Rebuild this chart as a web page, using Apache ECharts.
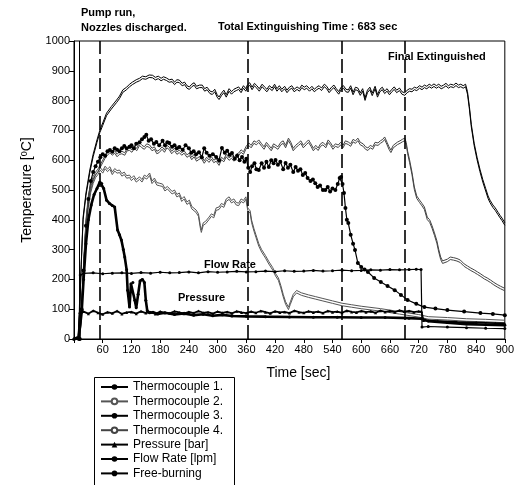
<!DOCTYPE html>
<html><head><meta charset="utf-8">
<script src="https://cdn.jsdelivr.net/npm/echarts@6/dist/echarts.min.js"></script>
<style>html,body{margin:0;padding:0;background:#fff}#c{width:517px;height:485px}</style>
</head><body><div id="c"></div>
<script>
// ---- data ----
const xTicks = [60,120,180,240,300,360,420,480,540,600,660,720,780,840,900];
const eventTimes = [53, 362, 560, 691];
const ignitionTime = [10];

const tc1Time = [0,5,10,12,16,20,25,30,36,42,48,54,58,62,68,74,80,85,91,95,99,103,106,110,112,116,119,123,127,130,134,138,143,147,150,153,158,165,175,190,210,230,250,270,290,310,330,360,400,450,500,550,600,650,700,726,740,780,820,860,900];
const tc1Temp = [0,3,5,0,90,200,320,400,450,485,505,527,522,505,466,455,448,443,366,350,332,300,275,232,164,107,185,190,130,105,150,195,200,190,130,95,88,90,84,88,82,86,80,83,78,81,77,76,75,74,73,73,72,72,70,68,60,55,50,48,46];

const tc2Time = [12,16,20,25,30,35,40,45,50,55,60,65,70,75,80,85,90,95,100,105,110,116,120,125,130,137,142,147,152,158,163,168,173,178,185,190,195,199,205,210,215,220,225,230,236,241,246,250,255,260,264,266,270,275,282,287,292,297,303,308,313,318,324,329,334,339,344,349,354,359,363,368,371,376,380,386,392,400,407,415,421,427,432,437,442,448,452,458,465,475,490,505,520,540,560,580,600,640,680,720,740,780,820,860,900];
const tc2Temp = [0,120,250,380,450,500,530,550,560,575,565,580,570,578,560,572,565,567,555,560,548,550,540,548,535,544,535,550,545,557,530,540,525,523,520,505,512,510,495,500,485,490,470,478,460,466,445,450,433,420,380,366,390,395,409,420,415,440,443,455,450,470,477,465,470,458,456,470,465,477,440,430,399,370,350,320,300,280,260,240,220,205,180,150,125,107,125,150,163,155,148,142,136,128,120,115,110,102,92,82,75,72,68,66,63];

const tc3Time = [12,16,20,25,30,35,40,45,50,55,60,65,70,75,80,85,90,95,100,105,110,116,120,125,130,137,142,147,151,156,161,167,172,178,185,190,195,199,205,210,215,220,227,233,240,245,250,255,261,267,272,277,283,290,297,303,309,315,320,325,330,336,341,346,351,356,360,364,368,372,377,381,386,392,397,402,407,412,417,421,426,431,437,442,447,452,458,463,468,473,478,483,488,494,499,504,509,514,520,525,530,535,540,546,551,555,558,561,564,567,570,573,578,583,587,593,600,607,614,627,641,655,670,683,697,715,732,755,780,815,849,875,900];
const tc3Temp = [0,100,230,380,470,530,560,580,595,610,620,615,630,634,628,640,635,630,640,648,640,645,650,640,655,660,670,678,685,665,670,655,661,650,665,650,660,658,645,650,640,644,635,650,640,625,630,620,627,610,640,625,615,620,611,600,641,625,632,618,624,605,615,600,611,595,605,575,560,580,590,570,567,590,575,595,577,600,590,601,585,595,570,591,575,585,560,577,565,570,550,557,540,530,535,523,510,515,500,500,510,495,505,500,520,540,544,520,490,440,400,389,350,320,299,255,242,233,225,205,191,178,164,148,131,118,107,102,97,92,87,84,80];

const tc4Time = [12,16,20,25,30,35,40,45,50,55,60,65,70,75,80,85,90,95,100,106,111,116,121,126,131,137,142,147,152,158,163,168,173,178,184,189,194,199,204,210,215,220,225,230,236,241,246,251,256,261,266,272,277,282,287,292,297,303,308,313,318,324,329,334,339,344,349,354,359,365,370,376,381,386,392,397,402,407,412,417,421,426,432,437,442,448,453,458,463,469,474,479,485,490,495,500,505,510,515,520,526,531,536,541,546,552,557,562,567,573,578,583,588,593,598,604,609,614,619,624,629,635,640,645,649,654,658,662,667,671,676,681,686,691,694,697,701,706,711,716,722,727,732,738,743,748,753,758,762,766,770,774,780,786,793,800,807,815,822,829,836,843,850,857,863,870,877,884,891,900];
const tc4Temp = [0,110,250,400,480,520,545,560,570,585,600,615,625,634,625,632,620,628,630,625,640,641,635,648,640,658,650,645,655,651,640,645,630,634,645,635,650,644,630,640,628,634,625,632,618,624,610,620,605,611,615,598,610,601,612,600,605,591,610,603,620,608,615,605,620,624,635,628,645,658,650,665,660,668,655,645,660,650,640,655,658,645,660,665,650,674,660,640,650,658,665,650,660,668,655,640,650,641,655,660,650,668,658,645,655,651,660,650,665,661,655,670,665,674,660,655,645,641,650,645,660,658,665,670,678,660,645,634,650,655,661,665,670,674,660,630,601,560,510,480,466,455,443,409,400,380,356,330,300,275,262,258,268,275,273,270,265,252,245,238,232,225,218,210,205,198,190,183,177,170];

const fbTime = [8,12,15,19,25,33,40,48,54,60,68,78,89,95,102,110,116,122,130,137,143,150,157,164,170,176,182,187,193,199,205,210,215,220,226,231,236,241,246,251,256,262,268,273,278,284,289,294,299,303,308,313,318,324,329,334,339,344,349,354,359,362,367,372,377,382,387,393,398,403,408,414,419,424,429,434,440,445,450,455,460,466,471,476,481,486,492,497,502,507,512,517,523,528,533,538,543,548,553,558,563,568,573,578,583,588,593,598,603,608,613,618,623,629,634,639,644,649,654,659,664,669,674,680,685,691,696,701,706,711,716,722,727,732,737,742,747,752,757,762,767,772,777,782,787,793,798,803,808,813,818,822,826,830,836,842,848,854,860,865,869,875,880,886,890,894,900];
const fbTemp = [0,100,250,409,490,567,620,668,701,725,758,780,802,815,836,845,855,862,870,875,882,880,886,885,878,882,875,880,876,870,872,862,870,869,858,862,850,846,855,860,848,852,852,840,845,832,829,838,820,812,825,835,820,840,830,838,842,846,835,850,840,852,860,845,858,850,840,855,846,838,850,842,855,840,850,838,848,835,845,850,838,846,840,852,845,850,840,848,838,845,850,842,855,848,835,845,852,840,830,845,850,838,836,850,828,845,842,826,840,809,835,845,825,848,820,838,845,832,840,828,838,846,835,842,830,826,835,840,838,845,842,850,845,852,848,855,850,856,850,855,848,852,858,850,855,852,859,852,855,850,855,830,780,720,657,610,570,535,505,480,466,450,440,425,415,406,390];

const prTime = [0,10,12,20,30,40,50,60,70,80,90,100,110,120,130,140,150,160,170,180,190,200,210,220,230,240,250,260,270,280,290,300,310,320,330,340,350,360,370,380,390,400,410,420,430,440,450,460,470,480,490,500,510,520,530,540,550,560,570,580,590,600,610,620,630,640,650,660,670,680,690,700,710,720,726,730,760,800,840,880,900];
const prVal = [0,0,90,92,85,95,88,83,90,86,94,84,89,91,85,93,87,90,84,92,88,86,93,89,85,91,87,94,88,90,85,92,88,91,86,93,89,87,92,88,94,90,86,93,89,91,87,95,90,88,93,89,92,87,94,90,92,88,95,91,89,94,90,93,88,95,91,94,90,96,92,94,90,93,92,62,60,57,55,53,52];

const flTime = [0,10,13,20,40,60,80,100,120,140,160,180,200,220,240,260,280,300,320,340,360,380,400,420,440,460,480,500,520,540,560,580,600,620,640,660,680,700,715,725,727,740,780,820,860,900];
const flVal = [0,0,215,220,222,219,221,222,220,223,221,224,222,223,225,222,226,224,225,227,225,226,228,226,229,227,228,230,228,229,231,229,230,232,231,233,232,233,234,233,40,42,40,38,36,35];

const seriesNames = ['Thermocouple 1.','Thermocouple 2.','Thermocouple 3.','Thermocouple 4.','Pressure [bar]','Flow Rate [lpm]','Free-burning'];

function zip(t, v){ return t.map((x,i)=>[x, v[i]]); }

const FONT = 'Liberation Sans, Arial, sans-serif';
const dbl = (c) => ({color: c, width: 1, shadowColor: c, shadowBlur: 0, shadowOffsetY: 2.5});
const chart = echarts.init(document.getElementById('c'), null, {renderer:'canvas'});
chart.setOption({
  animation: false,
  backgroundColor: '#fff',
  textStyle: {fontFamily: FONT, color:'#000'},
  grid: {left: 74, right: 9, top: 41, bottom: 146, show: true, borderColor:'#000', borderWidth: 1},
  legend: {
    orient: 'vertical', left: 92, top: 378,
    padding: [2, 10, 2, 8],
    itemWidth: 27, itemHeight: 7, itemGap: 0.4,
    textStyle: {fontFamily: FONT, fontSize: 12, color:'#000', lineHeight: 14},
    data: seriesNames
  },
  xAxis: {
    type: 'value', min: 0, max: 900, interval: 60,
    name: 'Time [sec]', nameLocation: 'middle', nameGap: 27,
    nameTextStyle: {fontFamily: FONT, fontSize: 14, color:'#000', padding:[0,0,0,18]},
    axisLine: {lineStyle: {color:'#000', width: 1}},
    axisTick: {show: true, inside: false, length: 4, lineStyle:{color:'#000'}},
    axisLabel: {fontFamily: FONT, fontSize: 11, color:'#000', margin: 5,
      formatter: v => xTicks.indexOf(v) >= 0 ? String(v) : ''},
    splitLine: {show: false}
  },
  yAxis: {
    type: 'value', min: 0, max: 1000, interval: 100,
    name: 'Temperature [{sup|0}C]', nameLocation: 'middle', nameGap: 37, nameRotate: 90,
    nameTextStyle: {fontFamily: FONT, fontSize: 14, color:'#000',
      rich: {sup: {fontFamily: FONT, fontSize: 9, color:'#000', padding:[0,0,7,0]}}},
    axisLine: {show: true, lineStyle: {color:'#000', width: 1}},
    axisTick: {show: true, inside: false, length: 5, lineStyle:{color:'#000'}},
    axisLabel: {fontFamily: FONT, fontSize: 11, color:'#000', margin: 4, formatter: v => String(v)},
    splitLine: {show: false}
  },
  series: [
    {name: seriesNames[0], type:'line', data: zip(tc1Time, tc1Temp), symbol:'circle', symbolSize: 3, showSymbol: true,
      lineStyle:{color:'#000', width: 2.6}, itemStyle:{color:'#000'}, z: 5},
    {name: seriesNames[1], type:'line', data: zip(tc2Time, tc2Temp), symbol:'emptyCircle', symbolSize: 2, showSymbol: false,
      lineStyle: dbl('#555'), itemStyle:{color:'#555'}},
    {name: seriesNames[2], type:'line', data: zip(tc3Time, tc3Temp), symbol:'circle', symbolSize: 4, showSymbol: true,
      lineStyle:{color:'#000', width: 1.2}, itemStyle:{color:'#000'}},
    {name: seriesNames[3], type:'line', data: zip(tc4Time, tc4Temp), symbol:'emptyCircle', symbolSize: 2, showSymbol: false,
      lineStyle: dbl('#444'), itemStyle:{color:'#444'}},
    {name: seriesNames[4], type:'line', data: zip(prTime, prVal), symbol:'triangle', symbolSize: 3, showSymbol: true,
      lineStyle:{color:'#000', width: 1.8}, itemStyle:{color:'#000'}},
    {name: seriesNames[5], type:'line', data: zip(flTime, flVal), symbol:'circle', symbolSize: 3, showSymbol: true,
      lineStyle:{color:'#000', width: 1.2}, itemStyle:{color:'#000'},
      markLine: {silent: true, symbol: 'none', label: {show: false},
        lineStyle: {color:'#000', width: 1.6, type: [14, 5]},
        data: eventTimes.map(t => ({xAxis: t}))}},
    {name: seriesNames[6], type:'line', data: zip(fbTime, fbTemp), symbol:'none', symbolSize: 2, showSymbol: false,
      lineStyle: dbl('#000'), itemStyle:{color:'#000'},
      markLine: {silent: true, symbol: 'none', label: {show: false},
        lineStyle: {color:'#000', width: 1, type: 'solid', shadowOffsetY: 0},
        data: ignitionTime.map(t => ({xAxis: t}))}}
  ],
  graphic: [
    {type:'rect', left: 92, top: 375, shape:{width: 140, height: 120}, style:{fill:'none', stroke:'#000', lineWidth: 1}},
    {type:'text', left: 81, top: 7, style:{text:'Pump run,', font:'bold 11px ' + FONT, fill:'#000'}},
    {type:'text', left: 81, top: 22, style:{text:'Nozzles discharged.', font:'bold 11px ' + FONT, fill:'#000'}},
    {type:'text', left: 218, top: 21, style:{text:'Total Extinguishing Time : 683 sec', font:'bold 11px ' + FONT, fill:'#000'}},
    {type:'text', left: 388, top: 51, style:{text:'Final Extinguished', font:'bold 11px ' + FONT, fill:'#000'}},
    {type:'text', left: 204, top: 259, style:{text:'Flow Rate', font:'bold 11px ' + FONT, fill:'#000'}},
    {type:'text', left: 178, top: 292, style:{text:'Pressure', font:'bold 11px ' + FONT, fill:'#000'}}
  ]
});
</script></body></html>
